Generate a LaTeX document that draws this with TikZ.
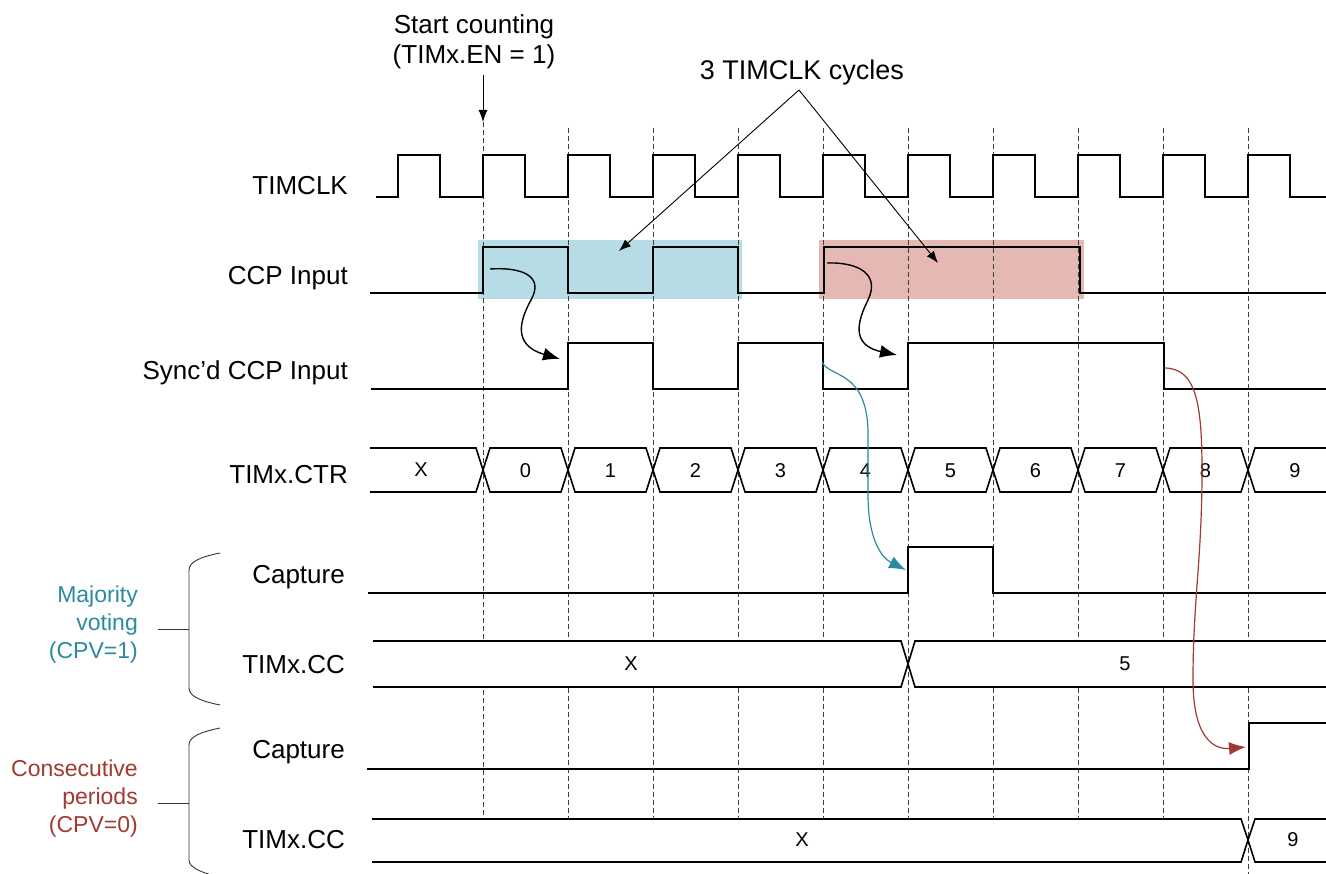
\documentclass[tikz,border=0pt]{standalone}
\usepackage{fontspec}
\setmainfont{Liberation Sans}
\usetikzlibrary{arrows.meta,positioning,calc}
\definecolor{majteal}{RGB}{44,138,158}
\definecolor{conred}{RGB}{160,58,50}
\definecolor{winblue}{RGB}{182,221,230}
\definecolor{winred}{RGB}{229,184,180}

\begin{document}
\begin{tikzpicture}[
  x=1pt, y=-1pt,
  sig/.style={anchor=base east, inner sep=0pt, font=\fontsize{26}{28}\selectfont},
  note/.style={inner sep=0pt, align=center, font=\fontsize{26}{30}\selectfont},
  grp/.style={inner sep=0pt, align=right, anchor=east, font=\fontsize{23}{28}\selectfont},
  val/.style={inner sep=0pt, font=\fontsize{20}{24}\selectfont},
  wave/.style={line width=1.6pt, line join=miter},
  bus/.style={line width=1.6pt, line join=miter, fill=white},
  guide/.style={line width=0.8pt, black!75, dash pattern=on 5pt off 3pt},
  bracket/.style={line width=0.9pt, black!80},
  arr/.style={-{Latex[length=12pt,width=9pt]}, line width=0.9pt},
  hop/.style={-{Latex[length=17pt,width=13pt]}, line width=1.4pt}
]
\useasboundingbox (0,0) rectangle (1326,874);

\fill[winblue] (478,240) rectangle (742,299);
\fill[winred] (819,240) rectangle (1084,299);

\node[note] (start) at (474,42) {Start counting\\(TIMx.EN = 1)};
\node[note, anchor=base, font=\fontsize{27}{30}\selectfont] (cyc) at (802,80) {3 TIMCLK cycles};

\coordinate (en) at (483,122);
\coordinate (apex) at (799,90);
\coordinate (bluetip) at (619,251);
\coordinate (redtip) at (938,263);

\draw[guide] (en) -- (483,818);
\foreach \k in {1,...,8}
  \draw[guide] ({483+85*\k},128) -- ({483+85*\k},818);
\draw[guide] (1248,128) -- (1248,874);

\draw[arr] (en |- start.south) ++(0,6) -- (en);
\draw[arr] (apex) -- (bluetip);
\draw[arr] (apex) -- (redtip);

\node[sig] (clk) at (348,195) {TIMCLK};
\node[sig] (ccp) at (348,285) {CCP Input};
\node[sig] (sync) at (348,380) {Sync’d CCP Input};
\node[sig] (ctr) at (348,483) {TIMx.CTR};
\node[sig] (capa) at (345,583) {Capture};
\node[sig] (cca) at (345,673) {TIMx.CC};
\node[sig] (capb) at (345,758) {Capture};
\node[sig] (ccb) at (345,848) {TIMx.CC};

\node[grp, majteal] (maj) at (138,625) {Majority\\voting\\(CPV=1)};
\node[grp, conred] (con) at (138,799) {Consecutive\\periods\\(CPV=0)};

\draw[bracket] (220,553) .. controls (200,557) and (189,562) .. (189,570) -- (189,688)
  .. controls (189,696) and (200,701) .. (220,705);
\draw[bracket] (158,629) -- (189,629);
\draw[bracket] (220,728) .. controls (200,732) and (189,737) .. (189,745) -- (189,860)
  .. controls (189,867) and (200,872) .. (215,876);
\draw[bracket] (158,803) -- (189,803);

\draw[wave] (376,197) \foreach \k in {-1,...,9} { -- ({483+85*\k},197) -- ++(0,-42) -- ++(42,0) -- ++(0,42) } -- (1326,197);

\draw[wave] (370,293) -- (483,293) -- (483,247) -- (568,247) -- (568,293) -- (653,293) -- (653,247)
  -- (738,247) -- (738,293) -- (824,293) -- (824,247) -- (1080,247) -- (1080,293) -- (1326,293);

\draw[wave] (371,389) -- (568,389) -- (568,343) -- (653,343) -- (653,389) -- (738,389) -- (738,343)
  -- (823,343) -- (823,389) -- (908,389) -- (908,343) -- (1164,343) -- (1164,389) -- (1326,389);

\fill[white] (370,448) -- (476,448) -- (483,470) -- (476,492) -- (370,492) -- cycle;
\draw[wave] (370,448) -- (476,448) -- (483,470) -- (476,492) -- (370,492);
\node[val] (ctrx) at (421,470) {X};
\foreach \k in {0,...,8}{
  \pgfmathsetmacro\a{483+85*\k}
  \pgfmathsetmacro\b{568+85*\k}
  \draw[bus] (\a,470) -- (\a+7,448) -- (\b-7,448) -- (\b,470) -- (\b-7,492) -- (\a+7,492) -- cycle;
  \node[val] (ctr\k) at ({(\a+\b)/2},471) {\k};
}
\fill[white] (1326,448) -- (1255,448) -- (1248,470) -- (1255,492) -- (1326,492) -- cycle;
\draw[wave] (1326,448) -- (1255,448) -- (1248,470) -- (1255,492) -- (1326,492);
\node[val] (ctr9) at (1295,471) {9};

\draw[wave] (368,593) -- (908,593) -- (908,547) -- (993,547) -- (993,593) -- (1326,593);

\fill[white] (373,641) -- (901,641) -- (908,664) -- (901,687) -- (373,687) -- cycle;
\draw[wave] (373,641) -- (901,641) -- (908,664) -- (901,687) -- (373,687);
\fill[white] (1326,641) -- (915,641) -- (908,664) -- (915,687) -- (1326,687) -- cycle;
\draw[wave] (1326,641) -- (915,641) -- (908,664) -- (915,687) -- (1326,687);
\node[val] (ccax) at (631,664) {X};
\node[val] (cca5) at (1125,664) {5};

\draw[wave] (367,769) -- (1249,769) -- (1249,723) -- (1326,723);

\fill[white] (372,819) -- (1241,819) -- (1248,840) -- (1241,862) -- (372,862) -- cycle;
\draw[wave] (372,819) -- (1241,819) -- (1248,840) -- (1241,862) -- (372,862);
\fill[white] (1326,819) -- (1255,819) -- (1248,840) -- (1255,862) -- (1326,862) -- cycle;
\draw[wave] (1326,819) -- (1255,819) -- (1248,840) -- (1255,862) -- (1326,862);
\node[val] (ccbx) at (802,840) {X};
\node[val] (ccb9) at (1293,840) {9};

\coordinate (synca) at (560,359);
\coordinate (syncb) at (897,355);
\coordinate (capatip) at (906,570);
\coordinate (capbtip) at (1246,747);

\draw[hop] (490,269) .. controls (520,267) and (545,275) .. (531,300)
  .. controls (520,320) and (512,345) .. (synca);
\draw[hop] (827,263) .. controls (860,262) and (880,275) .. (868,300)
  .. controls (858,320) and (850,345) .. (syncb);
\draw[hop, majteal, line width=1.2pt] (822,362) .. controls (830,378) and (866,370) .. (868,430)
  -- (868,495) .. controls (868,540) and (882,558) .. (capatip);
\draw[hop, conred, line width=1.2pt] (1164,368) .. controls (1195,368) and (1202,400) .. (1202,470)
  .. controls (1202,560) and (1193,600) .. (1193,680) .. controls (1193,735) and (1212,750) .. (capbtip);
\end{tikzpicture}
\end{document}
